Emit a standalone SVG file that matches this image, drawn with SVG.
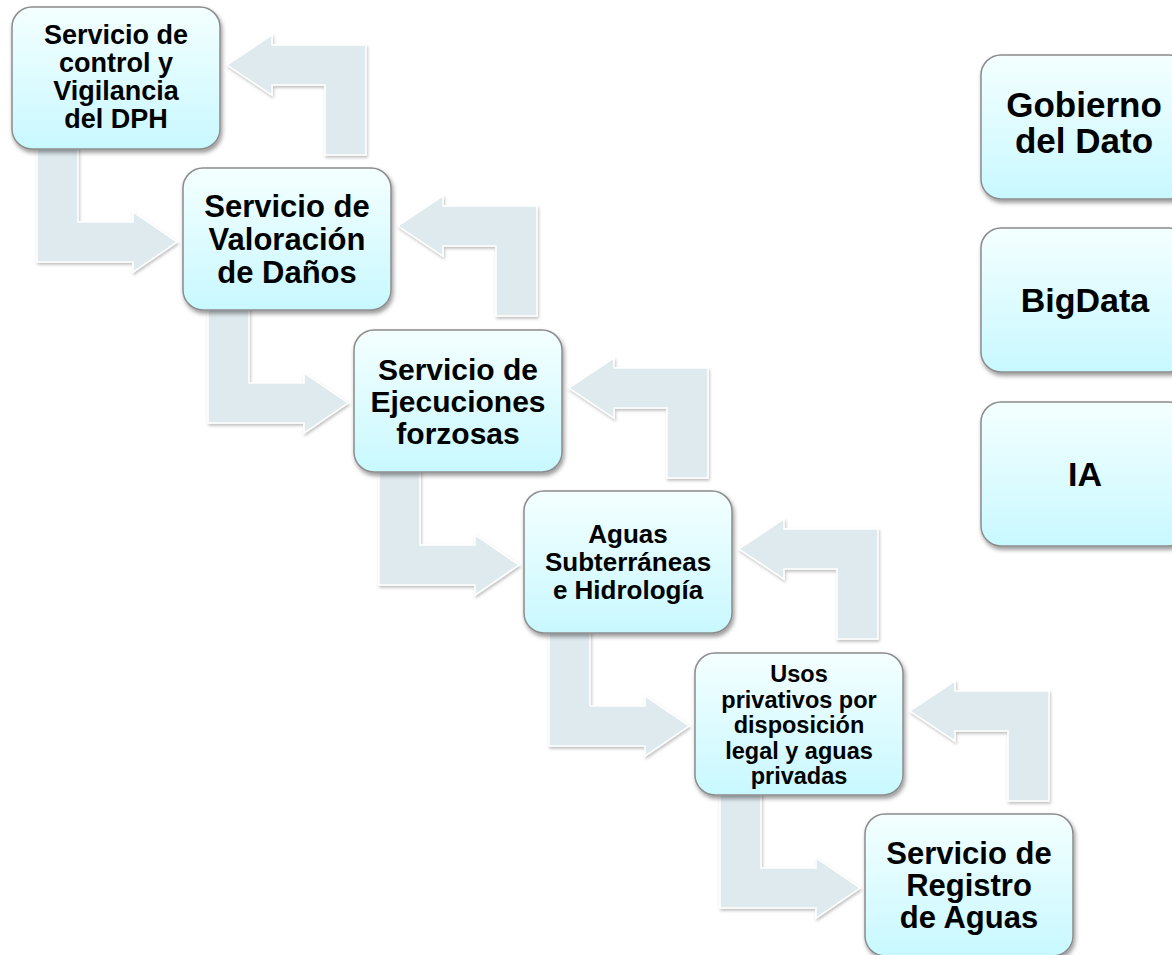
<svg xmlns="http://www.w3.org/2000/svg" width="1172" height="955" viewBox="0 0 1172 955">
<style>
.box{fill:url(#g);stroke:#8c8c8c;stroke-width:1.5;filter:url(#sh)}
.arr{fill:#dfeaee;stroke:#ffffff;stroke-width:1.5;filter:url(#ash)}
text{font-family:"Liberation Sans",Arial,Helvetica,sans-serif;font-weight:bold;fill:#000;text-anchor:middle}
</style>
<defs>
<linearGradient id="g" x1="0" y1="0" x2="0" y2="1">
<stop offset="0" stop-color="#f4ffff"/>
<stop offset="1" stop-color="#c8f8ff"/>
</linearGradient>
<filter id="sh" x="-10%" y="-10%" width="125%" height="130%">
<feDropShadow dx="1.5" dy="3" stdDeviation="2" flood-color="#000" flood-opacity="0.4"/>
</filter>
<filter id="ash" x="-10%" y="-10%" width="125%" height="130%">
<feDropShadow dx="1" dy="2" stdDeviation="1.5" flood-color="#000" flood-opacity="0.25"/>
</filter>
<path id="down" d="M25,135 L66,135 L66,215 L121,215 L121,205 L165,235 L121,265 L121,255 L25,255 Z"/>
<path id="up" d="M313,148 L354,148 L354,38 L260,38 L260,28 L215,58 L260,88 L260,78 L313,78 Z"/>
</defs>
<g id="connectors">
<use href="#down" class="arr" x="12" y="7"/>
<use href="#up" class="arr" x="12" y="7"/>
<use href="#down" class="arr" x="183" y="168"/>
<use href="#up" class="arr" x="183" y="168"/>
<use href="#down" class="arr" x="354" y="330"/>
<use href="#up" class="arr" x="354" y="330"/>
<use href="#down" class="arr" x="524" y="491"/>
<use href="#up" class="arr" x="524" y="491"/>
<use href="#down" class="arr" x="695" y="653"/>
<use href="#up" class="arr" x="695" y="653"/>
</g>
<g id="n1">
<rect class="box" x="12" y="7" width="208" height="142" rx="20"/>
<text font-size="27"><tspan x="116" y="44">Servicio de</tspan><tspan x="116" y="72">control y</tspan><tspan x="116" y="100">Vigilancia</tspan><tspan x="116" y="128">del DPH</tspan></text>
</g>
<g id="n2">
<rect class="box" x="183" y="168" width="208" height="142" rx="20"/>
<text font-size="31"><tspan x="287" y="217">Servicio de</tspan><tspan x="287" y="250">Valoración</tspan><tspan x="287" y="283">de Daños</tspan></text>
</g>
<g id="n3">
<rect class="box" x="354" y="330" width="208" height="142" rx="20"/>
<text font-size="30"><tspan x="458" y="380">Servicio de</tspan><tspan x="458" y="412">Ejecuciones</tspan><tspan x="458" y="444">forzosas</tspan></text>
</g>
<g id="n4">
<rect class="box" x="524" y="491" width="208" height="142" rx="20"/>
<text font-size="26"><tspan x="628" y="543">Aguas</tspan><tspan x="628" y="571">Subterráneas</tspan><tspan x="628" y="599">e Hidrología</tspan></text>
</g>
<g id="n5">
<rect class="box" x="695" y="653" width="208" height="142" rx="20"/>
<text font-size="23.5"><tspan x="799" y="682">Usos</tspan><tspan x="799" y="707.5">privativos por</tspan><tspan x="799" y="733">disposición</tspan><tspan x="799" y="758.5">legal y aguas</tspan><tspan x="799" y="784">privadas</tspan></text>
</g>
<g id="n6">
<rect class="box" x="865" y="814" width="208" height="142" rx="20"/>
<text font-size="31"><tspan x="969" y="864">Servicio de</tspan><tspan x="969" y="896">Registro</tspan><tspan x="969" y="928">de Aguas</tspan></text>
</g>
<g id="gobierno">
<rect class="box" x="981" y="55" width="208" height="144" rx="20"/>
<text font-size="35"><tspan x="1084" y="117">Gobierno</tspan><tspan x="1084" y="153">del Dato</tspan></text>
</g>
<g id="bigdata">
<rect class="box" x="981" y="228" width="208" height="144" rx="20"/>
<text font-size="34" x="1085" y="312">BigData</text>
</g>
<g id="ia">
<rect class="box" x="981" y="402" width="208" height="144" rx="20"/>
<text font-size="34" x="1085" y="486">IA</text>
</g>
</svg>
